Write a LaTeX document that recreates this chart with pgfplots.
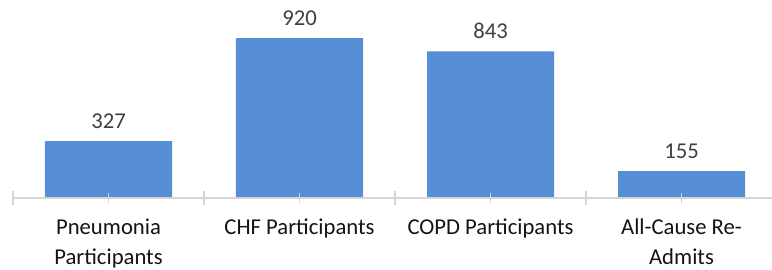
\documentclass[border=0pt]{standalone}
\usepackage{pgfplots}
\pgfplotsset{compat=1.18}
\usepackage{fontspec}
\setmainfont{Carlito}
\definecolor{barblue}{RGB}{85,142,213}
\definecolor{axgray}{RGB}{212,212,212}
\definecolor{lblgray}{RGB}{64,64,64}
\definecolor{tickgray}{RGB}{20,20,20}
\begin{document}
\begin{tikzpicture}
\begin{axis}[
  name=ax,
  scale only axis,
  width=573pt, height=148.5pt,
  xmin=-0.5, xmax=3.5,
  ymin=0, ymax=1138.5,
  axis x line*=bottom,
  axis y line=none,
  axis line style={axgray, line width=1.2pt},
  xtick={0,1,2,3},
  xticklabels={{Pneumonia\\Participants},{CHF Participants},{COPD Participants},{All-Cause Re-\\Admits}},
  xticklabel style={align=center, font=\fontsize{17}{22.5}\selectfont, text=tickgray, inner sep=0pt, yshift=-11.25pt},
  tick align=center,
  major tick length=8pt,
  tick style={axgray, line width=1.2pt},
  extra x ticks={-0.5,0.5,1.5,2.5,3.5},
  extra x tick labels={},
  extra x tick style={tick align=center, major tick length=10.5pt, tick style={axgray, line width=1.2pt}},
  ytick=\empty,
  axis on top,
  /pgf/number format/assume math mode=true,
  nodes near coords,
  nodes near coords style={anchor=base, inner sep=0pt, yshift=9.75pt, font=\fontsize{17}{20}\selectfont, text=lblgray},
  clip=false,
]
\addplot[ybar, bar width=0.665, fill=barblue, draw=none] coordinates {(0,327) (1,920) (2,843) (3,155)};
\end{axis}
\pgfresetboundingbox
\path ([shift={(-9.75pt,-53.25pt)}]ax.south west) rectangle ([shift={(-3.75pt,0pt)}]ax.north east);
\end{tikzpicture}
\end{document}
